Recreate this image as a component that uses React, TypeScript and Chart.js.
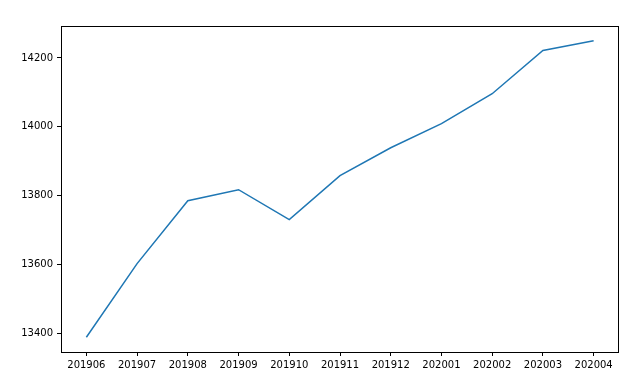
import React, { useEffect, useRef } from "react";
import { Chart, registerables } from "chart.js";

Chart.register(...registerables);

const categories = ["201906", "201907", "201908", "201909", "201910", "201911", "201912", "202001", "202002", "202003", "202004"];
const values = [13388, 13602, 13785, 13817, 13730, 13858, 13939, 14009, 14096, 14222, 14250];
const yTicks = [13400, 13600, 13800, 14000, 14200];

const frame = {
  id: "frame",
  afterDraw(chart: any) {
    const { ctx, chartArea } = chart;
    ctx.save();
    ctx.strokeStyle = "#000";
    ctx.lineWidth = 1;
    ctx.strokeRect(
      Math.round(chartArea.left) + 0.5,
      Math.round(chartArea.top) + 0.5,
      Math.round(chartArea.right - chartArea.left) - 1,
      Math.round(chartArea.bottom - chartArea.top)
    );
    ctx.restore();
  },
};

export default function App() {
  const ref = useRef<HTMLCanvasElement>(null);
  useEffect(() => {
    document.body.style.margin = "0";
    const chart = new Chart(ref.current!, {
      type: "line",
      data: {
        labels: categories,
        datasets: [
          {
            data: values,
            borderColor: "#1f77b4",
            borderWidth: 1.5,
            pointRadius: 0,
            fill: false,
            tension: 0,
          },
        ],
      },
      options: {
        responsive: false,
        animation: false,
        events: [],
        layout: { padding: { top: 26, right: 21, left: 0, bottom: 0 } },
        plugins: { legend: { display: false }, tooltip: { enabled: false } },
        scales: {
          x: {
            type: "category",
            offset: true,
            afterFit(s: any) {
              s.height = 31;
            },
            grid: {
              display: true,
              offset: false,
              drawOnChartArea: false,
              drawTicks: true,
              tickLength: 4,
              color: "#000",
            },
            border: { display: false },
            ticks: {
              color: "#000",
              padding: 3,
              maxRotation: 0,
              autoSkip: false,
              font: { family: "DejaVu Sans", size: 10 },
            },
          },
          y: {
            type: "linear",
            min: 13345,
            max: 14293,
            afterFit(s: any) {
              s.width = 61;
            },
            afterBuildTicks(s: any) {
              s.ticks = yTicks.map((v) => ({ value: v }));
            },
            grid: {
              display: true,
              drawOnChartArea: false,
              drawTicks: true,
              tickLength: 4,
              color: "#000",
            },
            border: { display: false },
            ticks: {
              color: "#000",
              padding: 4,
              font: { family: "DejaVu Sans", size: 10 },
              callback: (v: any) => String(v),
            },
          },
        },
      },
      plugins: [frame],
    });
    return () => chart.destroy();
  }, []);
  return <canvas ref={ref} width={640} height={383} style={{ display: "block" }} />;
}
